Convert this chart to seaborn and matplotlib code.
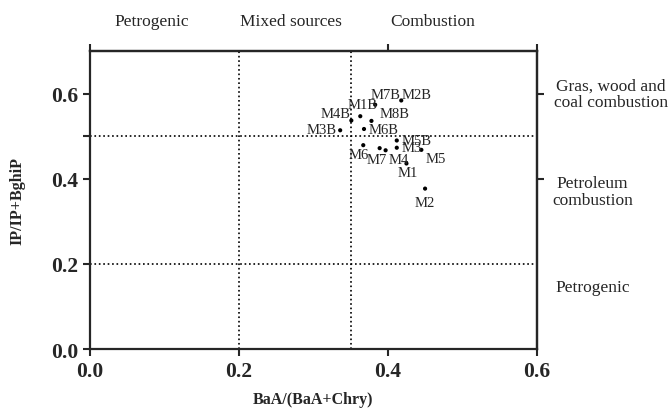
import matplotlib
matplotlib.use("Agg")
import matplotlib.pyplot as plt
import seaborn as sns
import pandas as pd

# sample ratios
samples = ["M7B", "M2B", "M1B", "M4B", "M8B", "M3B", "M6B", "M5B",
           "M3", "M5", "M6", "M7", "M4", "M1", "M2"]
baa_ratio = [0.383, 0.418, 0.363, 0.351, 0.378, 0.336, 0.368, 0.412,
             0.412, 0.445, 0.367, 0.389, 0.397, 0.425, 0.450]
ip_ratio = [0.574, 0.584, 0.547, 0.537, 0.536, 0.514, 0.517, 0.490,
            0.473, 0.468, 0.479, 0.472, 0.467, 0.436, 0.377]

# where the name sits relative to its dot (pixels, right / up)
label_offsets = [(10, 10), (15, 6), (2, 12), (-16, 7), (23, 7), (-18, 1),
                 (20, -1), (20, 0), (15, 0), (14, -9), (-5, -9), (-3, -11),
                 (13, -9), (1, -9), (0, -14)]

# interpretation zones
top_zones = ["Petrogenic", "Mixed sources", "Combustion"]
top_zone_x = [0.083, 0.27, 0.46]
right_zones = ["Gras, wood and\ncoal combustion", "Petroleum\ncombustion", "Petrogenic"]
right_zone_y = [0.60, 0.37, 0.147]
right_zone_x = [0.70, 0.675, 0.675]

df = pd.DataFrame({"sample": samples, "baa": baa_ratio, "ip": ip_ratio})

sns.set_style("ticks")
plt.rcParams["font.family"] = ["Liberation Serif", "DejaVu Serif"]

fig = plt.figure(figsize=(6.71, 4.10), dpi=100)
ax = fig.add_axes([0.134, 0.146, 0.666, 0.727])

sns.scatterplot(data=df, x="baa", y="ip", color="black", s=9,
                edgecolor="none", ax=ax, legend=False, zorder=3)

for name, x, y, off in zip(samples, baa_ratio, ip_ratio, label_offsets):
    ax.annotate(name, (x, y), xytext=off, textcoords="offset pixels",
                ha="center", va="center", fontsize=10.5)

# threshold lines
for xv in [0.2, 0.35]:
    ax.axvline(xv, color="black", linestyle=":", lw=1.2)
for yv in [0.2, 0.5]:
    ax.axhline(yv, color="black", linestyle=":", lw=1.2)

ax.set_xlim(0, 0.6)
ax.set_ylim(0, 0.7)
ax.set_xticks([0.0, 0.2, 0.4, 0.6])
ax.set_yticks([0.0, 0.2, 0.4, 0.6])
ax.set_yticks([0.5], minor=True)
ax.xaxis.set_major_formatter(matplotlib.ticker.FormatStrFormatter("%.1f"))
ax.yaxis.set_major_formatter(matplotlib.ticker.FormatStrFormatter("%.1f"))
ax.tick_params(which="both", direction="out", length=5, width=1.5, labelsize=15.5)
for lab in ax.get_xticklabels() + ax.get_yticklabels():
    lab.set_fontweight("bold")

for sp in ax.spines.values():
    sp.set_visible(True)
    sp.set_linewidth(1.6)

top = ax.secondary_xaxis("top")
top.set_xticks([0.0, 0.4, 0.6])
top.set_xticklabels([])
top.tick_params(direction="out", length=5, width=1.5)
top.spines["top"].set_linewidth(1.6)

right = ax.secondary_yaxis("right")
right.set_yticks([0.4, 0.6])
right.set_yticklabels([])
right.tick_params(direction="out", length=5, width=1.5)
right.spines["right"].set_linewidth(1.6)

ax.set_xlabel("BaA/(BaA+Chry)", fontsize=11.5, fontweight="bold", labelpad=7)
ax.set_ylabel("IP/IP+BghiP", fontsize=11.5, fontweight="bold", labelpad=18)

for txt, xv in zip(top_zones, top_zone_x):
    ax.text(xv, 0.77, txt, ha="center", va="center", fontsize=12.5, clip_on=False)
for txt, xv, yv in zip(right_zones, right_zone_x, right_zone_y):
    ax.text(xv, yv, txt, ha="center", va="center", fontsize=12.5,
            linespacing=1.05, clip_on=False)

fig.savefig("out.png", dpi=100)
